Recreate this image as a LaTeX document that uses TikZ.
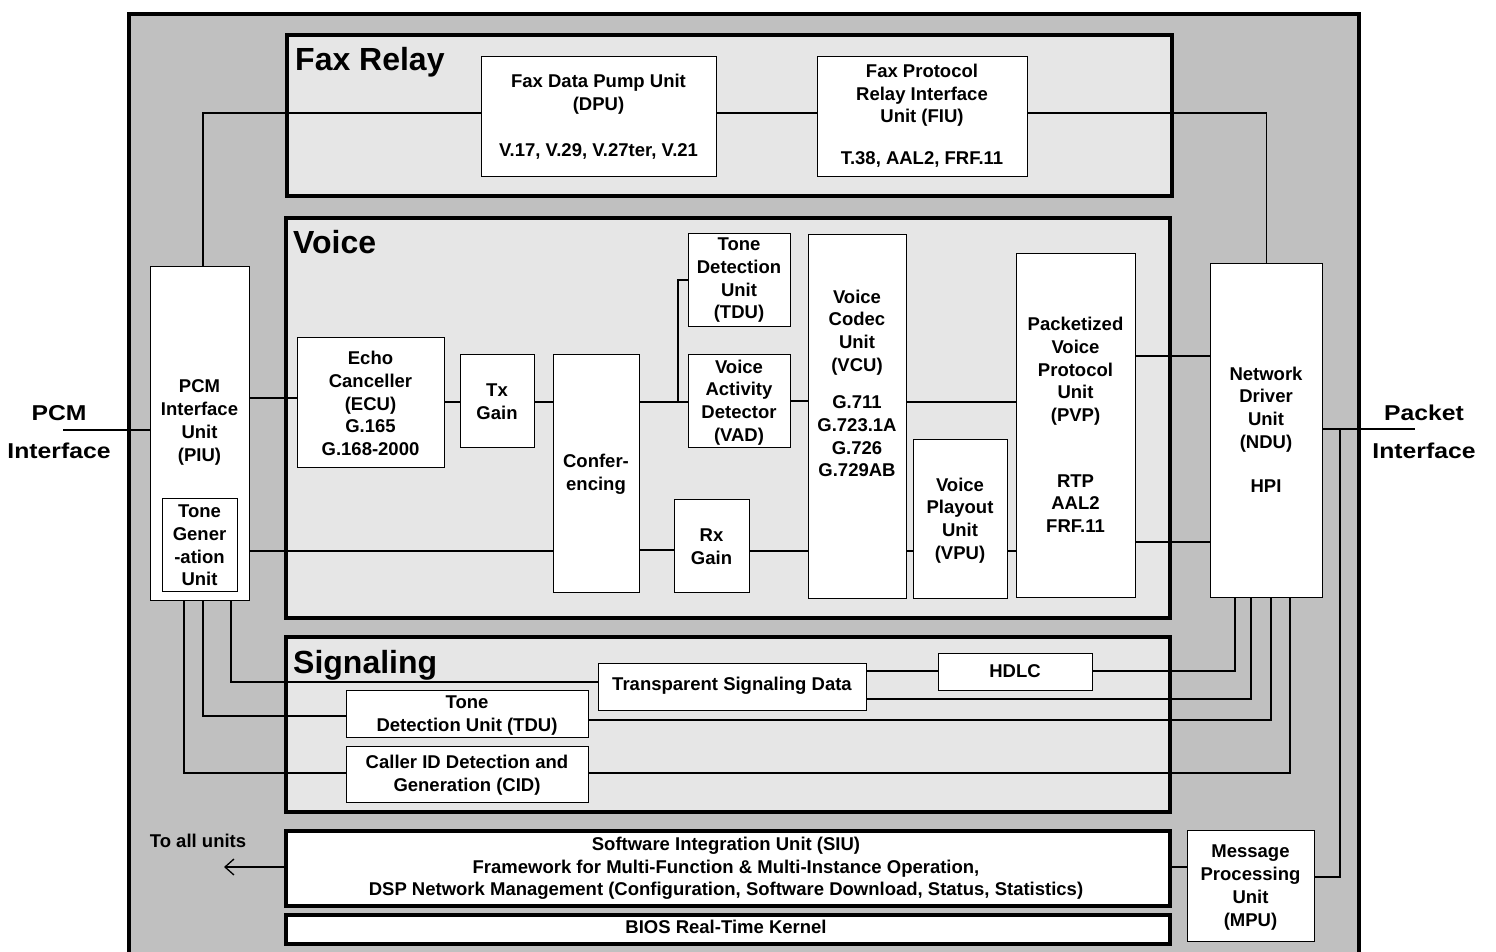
\documentclass[tikz,border=0pt]{standalone}
\usepackage{fontspec}
\setmainfont{Liberation Sans}
\newfontfamily\wideface[FakeStretch=1.15]{Liberation Sans}
\usetikzlibrary{arrows.meta}
\definecolor{outerfill}{RGB}{192,192,192}
\definecolor{groupfill}{RGB}{230,230,230}
\begin{document}
\begin{tikzpicture}[x=1pt,y=-1pt,
  box/.style={draw, fill=white, line width=1.3pt, inner sep=0pt, anchor=north west},
  grp/.style={draw, fill=groupfill, line width=4pt, inner sep=0pt, anchor=north west},
  wbar/.style={draw, fill=white, line width=4pt, inner sep=0pt, anchor=north west},
  txt/.style={font=\bfseries\fontsize{18.5}{22.7}\selectfont, align=center, inner sep=0pt},
  mtxt/.style={txt, yshift=-1.5pt},
  ttl/.style={font=\bfseries\fontsize{32}{36}\selectfont, inner sep=0pt, anchor=base west},
  ifl/.style={font=\wideface\bfseries\fontsize{21.5}{30}\selectfont, inner sep=0pt, anchor=base},
  wire/.style={line width=1.3pt}]
\useasboundingbox (0,0) rectangle (1496,952);
\clip (0,0) rectangle (1496,952);
% outer frame
\node[draw, fill=outerfill, line width=4pt, inner sep=0pt, anchor=north west,
      minimum width=1230pt, minimum height=960pt] (dsp) at (127,12) {};
% groups
\node[grp, minimum width=885pt, minimum height=161pt] (fax) at (285,33) {};
\node[grp, minimum width=884pt, minimum height=400pt] (voice) at (284,216) {};
\node[grp, minimum width=884pt, minimum height=175pt] (sig) at (284,635) {};
\node[wbar, minimum width=884pt, minimum height=75pt] (siu) at (284,829) {};
\node[wbar, minimum width=884pt, minimum height=29pt] (bios) at (284,913) {};
\node[ttl] (faxt) at (295,71) {Fax Relay};
\node[ttl] (voicet) at (293,253) {Voice};
\node[ttl] (sigt) at (293,673) {Signaling};
% boxes
\node[box, minimum width=235pt, minimum height=120pt] (dpu) at (481,56) {};
\node[box, minimum width=210pt, minimum height=120pt] (fiu) at (817,56) {};
\node[box, minimum width=99pt, minimum height=334pt] (piu) at (150,266) {};
\node[box, minimum width=75pt, minimum height=93pt] (tgu) at (162,498) {};
\node[box, minimum width=147pt, minimum height=130pt] (ecu) at (297,337) {};
\node[box, minimum width=74pt, minimum height=93pt] (tx) at (460,354) {};
\node[box, minimum width=86pt, minimum height=238pt] (conf) at (553,354) {};
\node[box, minimum width=102pt, minimum height=93pt] (tdu) at (688,233) {};
\node[box, minimum width=102pt, minimum height=93pt] (vad) at (688,354) {};
\node[box, minimum width=98pt, minimum height=364pt] (vcu) at (808,234) {};
\node[box, minimum width=75pt, minimum height=93pt] (rx) at (674,499) {};
\node[box, minimum width=94pt, minimum height=159pt] (vpu) at (913,439) {};
\node[box, minimum width=119pt, minimum height=344pt] (pvp) at (1016,253) {};
\node[box, minimum width=112pt, minimum height=334pt] (ndu) at (1210,263) {};
\node[box, minimum width=268pt, minimum height=47pt] (tsd) at (598,663) {};
\node[box, minimum width=154pt, minimum height=37pt] (hdlc) at (938,653) {};
\node[box, minimum width=242pt, minimum height=47pt] (tdus) at (346,690) {};
\node[box, minimum width=242pt, minimum height=56pt] (cid) at (346,746) {};
\node[box, minimum width=127pt, minimum height=111pt] (mpu) at (1187,830) {};
% texts
\node[mtxt] (dput1) at (598.5,93) {Fax Data Pump Unit\\(DPU)};
\node[txt] (dput2) at (598.5,151) {V.17, V.29, V.27ter, V.21};
\node[mtxt] (fiut1) at (922,94) {Fax Protocol\\Relay Interface\\Unit (FIU)};
\node[txt] (fiut2) at (922,159) {T.38, AAL2, FRF.11};
\node[mtxt] (piut) at (199.5,421) {PCM\\Interface\\Unit\\(PIU)};
\node[mtxt] (tgut) at (199.5,544) {Tone\\Gener\\-ation\\Unit};
\node[mtxt] (ecut) at (370.5,402) {Echo\\Canceller\\(ECU)\\G.165\\G.168-2000};
\node[mtxt] (txt) at (497,400) {Tx\\Gain};
\node[mtxt] (conft) at (596,473) {Confer-\\encing};
\node[mtxt] (tdut) at (739,279) {Tone\\Detection\\Unit\\(TDU)};
\node[mtxt] (vadt) at (739,401) {Voice\\Activity\\Detector\\(VAD)};
\node[mtxt] (vcut1) at (857,331) {Voice\\Codec\\Unit\\(VCU)};
\node[mtxt] (vcut2) at (857,435) {G.711\\G.723.1A\\G.726\\G.729AB};
\node[mtxt] (rxt) at (711.5,545) {Rx\\Gain};
\node[mtxt] (vput) at (960,519) {Voice\\Playout\\Unit\\(VPU)};
\node[mtxt] (pvpt1) at (1075.5,370) {Packetized\\Voice\\Protocol\\Unit\\(PVP)};
\node[mtxt] (pvpt2) at (1075.5,502) {RTP\\AAL2\\FRF.11};
\node[mtxt] (ndut1) at (1266,408) {Network\\Driver\\Unit\\(NDU)};
\node[txt] (ndut2) at (1266,486) {HPI};
\node[txt] (tsdt) at (732,686) {Transparent Signaling Data};
\node[txt] (hdlct) at (1015,671) {HDLC};
\node[mtxt] (tdust) at (467,714) {Tone\\Detection Unit (TDU)};
\node[mtxt] (cidt) at (467,774) {Caller ID Detection and\\Generation (CID)};
\node[mtxt] (siut) at (726,867) {Software Integration Unit (SIU)\\Framework for Multi-Function \& Multi-Instance Operation,\\DSP Network Management (Configuration, Software Download, Status, Statistics)};
\node[txt] (biost) at (726,927) {BIOS Real-Time Kernel};
\node[mtxt] (mput) at (1250.5,886) {Message\\Processing\\Unit\\(MPU)};
\node[txt] (toall) at (198,841) {To all units};
\node[ifl] (pcm1) at (59,420) {PCM};
\node[ifl] (pcm2) at (59,458) {Interface};
\node[ifl] (pkt1) at (1424,420) {Packet};
\node[ifl] (pkt2) at (1424,458) {Interface};
% free ends
\coordinate (pcmL) at (63,430);
\coordinate (pktR) at (1415,429);
\coordinate (mpuJ) at (1340,429);
\coordinate (tdJ) at (678,402);
\coordinate (allU) at (224,867);
% connectors
\draw[wire] (203,0 |- piu.north) |- (dpu.west |- 0,113);
\draw[wire] (dpu.east |- 0,113) -- (fiu.west |- 0,113);
\draw[wire] (fiu.east |- 0,113) -| (ndu.north);
\draw[wire] (pcmL) -- (piu.west |- pcmL);
\draw[wire] (piu.east |- 0,398) -- (ecu.west |- 0,398);
\draw[wire] (ecu.east |- 0,402) -- (tx.west |- 0,402);
\draw[wire] (tx.east |- 0,402) -- (conf.west |- 0,402);
\draw[wire] (piu.east |- 0,551) -- (conf.west |- 0,551);
\draw[wire] (conf.east |- 0,402) -- (vad.west |- 0,402);
\draw[wire] (tdJ) |- (tdu.west |- 0,280);
\draw[wire] (vad.east |- 0,401) -- (vcu.west |- 0,401);
\draw[wire] (vcu.east |- 0,402) -- (pvp.west |- 0,402);
\draw[wire] (conf.east |- 0,550) -- (rx.west |- 0,550);
\draw[wire] (rx.east |- 0,551) -- (vcu.west |- 0,551);
\draw[wire] (vcu.east |- 0,551) -- (vpu.west |- 0,551);
\draw[wire] (vpu.east |- 0,551) -- (pvp.west |- 0,551);
\draw[wire] (pvp.east |- 0,356) -- (ndu.west |- 0,356);
\draw[wire] (pvp.east |- 0,542) -- (ndu.west |- 0,542);
\draw[wire] (ndu.east |- pktR) -- (pktR);
\draw[wire] (mpuJ) |- (mpu.east |- 0,877);
\draw[wire] (siu.east |- 0,867) -- (mpu.west |- 0,867);
\draw[wire, -{Straight Barb[length=9pt,width=16pt]}] (siu.west |- allU) -- (allU);
\draw[wire] (231,0 |- piu.south) |- (tsd.west |- 0,682);
\draw[wire] (203,0 |- piu.south) |- (tdus.west |- 0,716);
\draw[wire] (184,0 |- piu.south) |- (cid.west |- 0,773);
\draw[wire] (tsd.east |- 0,671) -- (hdlc.west |- 0,671);
\draw[wire] (hdlc.east |- 0,671) -| (1235,0 |- ndu.south);
\draw[wire] (tsd.east |- 0,699) -| (1251,0 |- ndu.south);
\draw[wire] (tdus.east |- 0,720) -| (1271,0 |- ndu.south);
\draw[wire] (cid.east |- 0,773) -| (1290,0 |- ndu.south);
\end{tikzpicture}
\end{document}
